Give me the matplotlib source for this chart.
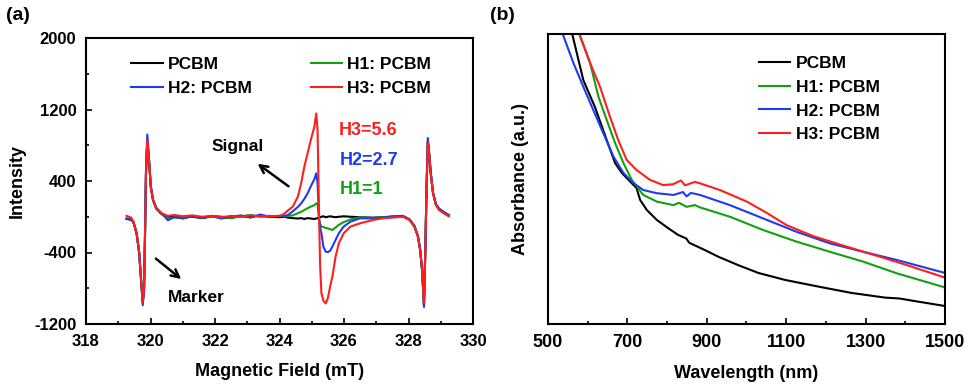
import matplotlib
matplotlib.use("Agg")
import matplotlib.pyplot as plt

plt.rcParams['font.family'] = ['Liberation Sans', 'DejaVu Sans']
plt.rcParams['font.weight'] = 'bold'
plt.rcParams['axes.unicode_minus'] = False

# ---- panel (a): EPR spectra ----
field = [319.26, 319.40, 319.47, 319.57, 319.65, 319.70, 319.76, 319.80, 319.83, 319.86,
         319.90, 319.96, 320.01, 320.08, 320.18, 320.34, 320.54, 320.74,
         321.0, 321.3, 321.6, 321.9, 322.2, 322.5, 322.8, 323.1, 323.4, 323.7, 324.0,
         324.16, 324.26, 324.41, 324.57, 324.67, 324.77, 324.87, 324.97, 325.08, 325.14,
         325.18, 325.23, 325.26, 325.30, 325.36, 325.43, 325.50, 325.57, 325.64, 325.74,
         325.84, 325.99, 326.20, 326.50,
         326.90, 327.20, 327.50, 327.83, 328.03, 328.18, 328.29, 328.36, 328.42, 328.46,
         328.48, 328.52, 328.56, 328.60, 328.64, 328.69, 328.76, 328.85, 328.95, 329.10, 329.25]

epr_pcbm = [-25, -35, -60, -190, -405, -665, -960, -800, -200, 480,
            850, 590, 330, 180, 90, 30, 0, 10,
            -10, 0, -15, 5, 0, -10, 5, 0, 10, 0, -5,
            0, -10, -15, -20, -15, -25, -15, -20, -25, -20,
            -15, -10, -5, 0, 5, -5, 0, 5, 0, -5,
            0, 5, 0, -5,
            -10, -5, 0, 5, -30, -100, -215, -365, -590, -850,
            -990, -400, 330, 840, 700, 490, 270, 140, 90, 50, 15]

epr_h1 = [-20, -30, -55, -180, -400, -660, -950, -800, -200, 500,
          880, 600, 330, 185, 95, 35, -20, -10,
          -15, 5, -10, 10, -5, -15, 5, 20, 0, 5, 10,
          5, 10, 15, 40, 55, 75, 95, 113, 130, 150,
          140, -37, -80, -110, -115, -125, -130, -140, -148, -120,
          -90, -60, -30, -5,
          -15, -5, 0, 5, -30, -100, -210, -360, -585, -850,
          -980, -400, 330, 850, 700, 480, 260, 130, 80, 40, 10]

epr_h2 = [-20, -30, -60, -190, -410, -670, -990, -820, -210, 520,
          920, 620, 340, 190, 100, 40, -40, 0,
          -20, 10, -15, 5, -20, 0, 15, -10, 25, 0, 10,
          10, 19, 60, 110, 149, 200, 260, 340, 420, 486,
          374, -37, -120, -185, -334, -390, -395, -380, -334, -259,
          -185, -110, -55, -17,
          -20, -10, 5, 10, -30, -105, -215, -365, -590, -860,
          -1010, -410, 340, 880, 720, 490, 270, 140, 85, 50, 20]

epr_h3 = [10, -10, -55, -185, -408, -669, -960, -800, -200, 480,
          860, 600, 336, 188, 95, 40, 10, 20,
          5, 15, 0, 10, -5, 10, 0, 15, 5, 10, 5,
          37, 70, 113, 225, 374, 560, 709, 858, 1006, 1156,
          970, -37, -557, -854, -940, -970, -910, -780, -669, -445,
          -296, -185, -110, -73,
          -37, -17, -10, 0, -37, -110, -222, -371, -594, -854,
          -960, -404, 336, 830, 709, 486, 263, 132, 75, 38, 5]

field_ticks = [318, 320, 322, 324, 326, 328, 330]
intensity_ticks = [-1200, -400, 400, 1200, 2000]

# ---- panel (b): absorption spectra (arbitrary units) ----
wl_pcbm = [561, 589, 618, 648, 669, 686, 707, 723, 732, 749, 774, 802, 828, 848, 856,
           895, 929, 979, 1030, 1097, 1181, 1265, 1349, 1385, 1433, 1500]
abs_pcbm = [1.0, 0.841, 0.749, 0.634, 0.555, 0.521, 0.491, 0.469, 0.428, 0.393, 0.359,
            0.331, 0.307, 0.295, 0.28, 0.255, 0.232, 0.203, 0.176, 0.152, 0.129, 0.107,
            0.091, 0.088, 0.077, 0.062]

wl_h1 = [579, 606, 627, 648, 669, 690, 711, 740, 774, 816, 830, 849, 870, 883, 958,
         1042, 1126, 1210, 1294, 1378, 1500]
abs_h1 = [1.0, 0.9, 0.784, 0.703, 0.624, 0.555, 0.497, 0.445, 0.422, 0.41, 0.418, 0.404,
          0.41, 0.402, 0.37, 0.324, 0.284, 0.249, 0.215, 0.175, 0.126]

wl_h2 = [537, 564, 589, 614, 639, 665, 690, 715, 740, 774, 816, 840, 849, 860, 883, 958,
         1042, 1126, 1210, 1294, 1378, 1500]
abs_h2 = [1.0, 0.9, 0.818, 0.738, 0.659, 0.577, 0.521, 0.486, 0.462, 0.451, 0.445, 0.455,
          0.44, 0.452, 0.445, 0.41, 0.364, 0.318, 0.278, 0.249, 0.221, 0.176]

wl_h3 = [579, 606, 631, 656, 677, 698, 723, 757, 790, 815, 835, 845, 870, 883, 933, 1001,
         1051, 1101, 1168, 1252, 1336, 1404, 1500]
abs_h3 = [1.0, 0.9, 0.818, 0.715, 0.634, 0.566, 0.531, 0.497, 0.479, 0.482, 0.495, 0.478,
          0.49, 0.485, 0.462, 0.422, 0.383, 0.341, 0.303, 0.267, 0.232, 0.203, 0.16]

wl_ticks = [500, 700, 900, 1100, 1300, 1500]

labels = ['PCBM', 'H1: PCBM', 'H2: PCBM', 'H3: PCBM']
colors = ['#000000', '#10a010', '#1c3cf0', '#ff1e1e']

fig = plt.figure(figsize=(9.7, 3.85), dpi=100)
ax1 = fig.add_axes([86 / 970, 61 / 385, 387 / 970, 286 / 385])
ax2 = fig.add_axes([548 / 970, 61 / 385, 397 / 970, 290 / 385])

lw = 1.5
l_pcbm, = ax1.plot(field, epr_pcbm, color=colors[0], lw=lw, label=labels[0])
l_h1, = ax1.plot(field, epr_h1, color=colors[1], lw=lw, label=labels[1])
l_h2, = ax1.plot(field, epr_h2, color=colors[2], lw=lw, label=labels[2])
l_h3, = ax1.plot(field, epr_h3, color=colors[3], lw=lw, label=labels[3])

ax1.set_xlim(318, 330)
ax1.set_ylim(-1200, 2000)
ax1.set_xticks(field_ticks)
ax1.set_xticks([f + 1 for f in field_ticks[:-1]], minor=True)
ax1.set_yticks(intensity_ticks)
ax1.set_yticks([v + 400 for v in intensity_ticks[:-1]], minor=True)
ax1.set_xlabel('Magnetic Field (mT)', fontsize=13, fontweight='bold', labelpad=10)
ax1.set_ylabel('Intensity', fontsize=13, fontweight='bold', labelpad=6)

ax1.legend([l_pcbm, l_h2, l_h1, l_h3], [labels[0], labels[2], labels[1], labels[3]],
           ncol=2, loc='upper left', bbox_to_anchor=(0.095, 0.965), frameon=False,
           fontsize=12.5, handlelength=1.8, handletextpad=0.3, columnspacing=3.4,
           labelspacing=0.5, borderpad=0)

ax1.text(325.84, 969, 'H3=5.6', color=colors[3], fontsize=13, fontweight='bold', va='center')
ax1.text(325.87, 634, 'H2=2.7', color=colors[2], fontsize=13, fontweight='bold', va='center')
ax1.text(325.88, 300, 'H1=1', color=colors[1], fontsize=13, fontweight='bold', va='center')

ax1.annotate('', xy=(323.25, 612), xytext=(324.35, 322),
             arrowprops=dict(arrowstyle='->', lw=1.8, color='black', mutation_scale=14))
ax1.text(322.69, 791, 'Signal', fontsize=12.5, fontweight='bold', ha='center', va='center')
ax1.annotate('', xy=(321.02, -717), xytext=(320.10, -449),
             arrowprops=dict(arrowstyle='->', lw=1.8, color='black', mutation_scale=14))
ax1.text(321.43, -906, 'Marker', fontsize=12.5, fontweight='bold', ha='center', va='center')

ax2.plot(wl_pcbm, abs_pcbm, color=colors[0], lw=lw, label=labels[0])
ax2.plot(wl_h1, abs_h1, color=colors[1], lw=lw, label=labels[1])
ax2.plot(wl_h2, abs_h2, color=colors[2], lw=lw, label=labels[2])
ax2.plot(wl_h3, abs_h3, color=colors[3], lw=lw, label=labels[3])
ax2.set_xlim(500, 1500)
ax2.set_ylim(0, 1)
ax2.set_xticks(wl_ticks)
ax2.set_xticks([w + 100 for w in wl_ticks[:-1]], minor=True)
ax2.set_yticks([])
ax2.set_xlabel('Wavelength (nm)', fontsize=13, fontweight='bold', labelpad=10)
ax2.set_ylabel('Absorbance (a.u.)', fontsize=13, fontweight='bold', labelpad=14)
ax2.legend(loc='upper left', bbox_to_anchor=(0.51, 0.955), frameon=False, fontsize=12.5,
           handlelength=1.8, handletextpad=0.3, labelspacing=0.5, borderpad=0)

for ax in (ax1, ax2):
    for sp in ax.spines.values():
        sp.set_linewidth(1.5)
    ax.tick_params(which='both', direction='in', top=False, right=False, width=1.2)
    ax.tick_params(which='major', length=4, labelsize=12, pad=7)
    ax.tick_params(which='minor', length=2.5)
    for t in ax.get_xticklabels() + ax.get_yticklabels():
        t.set_fontweight('bold')
ax2.tick_params(axis='x', labelsize=13)

fig.text(6 / 970, 1 - 15 / 385, '(a)', fontsize=14, fontweight='bold', va='center')
fig.text(490 / 970, 1 - 15 / 385, '(b)', fontsize=14, fontweight='bold', va='center')

fig.savefig('out.png', dpi=100)
